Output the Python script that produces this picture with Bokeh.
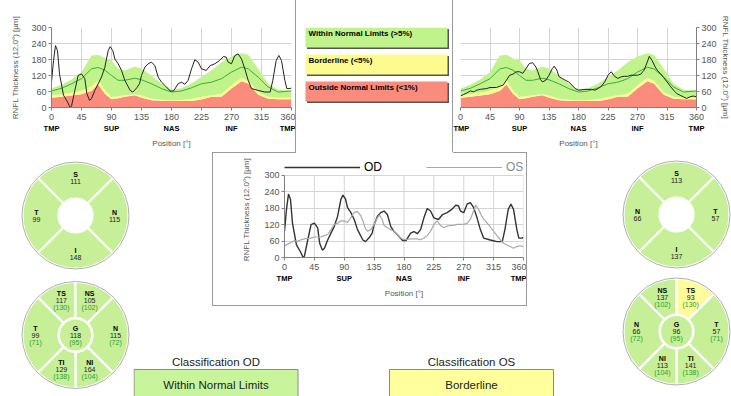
import math
from bokeh.plotting import figure
from bokeh.layouts import row, column
from bokeh.models import (Range1d, LinearAxis, FixedTicker, Grid, Legend, LegendItem,
                          Spacer, Div)
from bokeh.core.properties import value
from bokeh.embed import file_html
from bokeh.resources import INLINE

FONT = "Liberation Sans"

# ---------------- data ----------------
DEG_TICKS = [0, 45, 90, 135, 180, 225, 270, 315, 360]
THK_TICKS = [0, 60, 120, 180, 240, 300]
REGION_TICKS = [0, 90, 180, 270, 360]
REGION_LABELS = ["TMP", "SUP", "NAS", "INF", "TMP"]

NORM_DEG = [0, 15, 30, 45, 60, 70, 80, 90, 100, 110, 125, 135, 150, 165, 180, 195,
            210, 225, 240, 255, 270, 285, 295, 310, 325, 340, 360]
NORM_P1 = [37, 40, 45, 50, 62, 86, 52, 31, 35, 40, 46, 37, 27, 25, 24, 24,
           24, 30, 40, 40, 71, 98, 90, 48, 33, 31, 31]
NORM_P5 = [46, 50, 55, 64, 80, 102, 66, 40, 42, 46, 50, 46, 33, 29, 27, 28,
           32, 40, 46, 52, 83, 112, 100, 58, 40, 37, 37]
NORM_P95 = [71, 85, 105, 133, 195, 198, 185, 176, 145, 139, 154, 145, 120, 90, 67, 72,
            90, 114, 139, 170, 191, 203, 198, 145, 89, 67, 64]
NORM_MEAN = [62, 72, 89, 108, 145, 150, 140, 120, 102, 102, 110, 104, 89, 71, 58, 62,
             74, 89, 95, 108, 133, 151, 145, 114, 77, 58, 62]

OD_DEG = [0, 3, 6, 9, 12, 18, 24, 28, 30, 35, 40, 45, 50, 53, 57, 60, 65, 70, 75, 80,
          85, 88, 92, 95, 100, 105, 110, 118, 122, 128, 132, 135, 140, 145, 150, 155,
          160, 165, 170, 178, 183, 190, 195, 200, 205, 210, 215, 220, 225, 232, 238,
          245, 252, 258, 262, 265, 270, 275, 280, 285, 290, 295, 300, 310, 320, 328,
          332, 337, 341, 345, 350, 353, 358, 360]
OD_RNFL = [95, 176, 232, 213, 126, 46, 21, 0, 5, 64, 120, 126, 108, 52, 27, 33, 64, 89,
           114, 151, 213, 228, 213, 182, 164, 139, 102, 64, 58, 74, 89, 120, 151, 164,
           170, 157, 114, 95, 83, 62, 62, 89, 95, 87, 102, 145, 179, 170, 145, 139, 157,
           164, 176, 191, 189, 170, 164, 195, 201, 182, 145, 102, 71, 64, 58, 58, 102,
           176, 195, 176, 102, 71, 71, 74]

OS_DEG = [0, 5, 10, 15, 20, 25, 30, 40, 45, 55, 60, 65, 70, 75, 80, 85, 90, 95, 100, 105,
          110, 115, 118, 122, 125, 130, 135, 140, 143, 147, 150, 155, 160, 165, 170, 175,
          180, 190, 200, 205, 210, 215, 220, 225, 230, 235, 240, 245, 250, 255, 260, 270,
          275, 280, 285, 288, 292, 297, 300, 305, 310, 315, 320, 325, 330, 335, 340, 345,
          350, 355, 360]
OS_RNFL = [43, 49, 55, 62, 59, 65, 68, 71, 75, 75, 80, 84, 102, 121, 125, 134, 134, 128,
           146, 165, 168, 152, 134, 105, 96, 102, 121, 146, 155, 140, 117, 109, 102, 96,
           84, 71, 65, 68, 68, 65, 71, 80, 96, 121, 134, 117, 109, 115, 117, 117, 121,
           121, 125, 140, 171, 192, 177, 152, 140, 127, 112, 96, 80, 65, 52, 46, 40, 34,
           40, 43, 40]

LEGEND_LABELS = ["Within Normal Limits (>5%)", "Borderline (<5%)", "Outside Normal Limits (<1%)"]

OD_QUAD_LABELS = ["S", "T", "I", "N"]
OD_QUAD_VALUES = [111, 99, 148, 115]
OS_QUAD_LABELS = ["S", "N", "I", "T"]
OS_QUAD_VALUES = [113, 66, 137, 57]

OD_SECT_LABELS = ["TS", "NS", "N", "NI", "TI", "T", "G"]
OD_SECT_VALUES = [117, 105, 115, 164, 129, 99, 118]
OD_SECT_NORMS = [130, 102, 72, 104, 138, 71, 95]
OD_SECT_CLASS = ["WNL", "WNL", "WNL", "WNL", "WNL", "WNL", "WNL"]

OS_SECT_LABELS = ["NS", "TS", "T", "TI", "NI", "N", "G"]
OS_SECT_VALUES = [137, 93, 57, 141, 113, 66, 96]
OS_SECT_NORMS = [102, 130, 71, 138, 104, 72, 95]
OS_SECT_CLASS = ["WNL", "BL", "WNL", "WNL", "WNL", "WNL", "WNL"]

CLASS_TITLES = ["Classification OD", "Classification OS"]
CLASS_RESULTS = ["Within Normal Limits", "Borderline"]
CLASS_CODES = ["WNL", "BL"]

# ---------------- style ----------------
RED = "#fa8c7d"
YELLOW = "#fdfb8e"
GREEN = "#c0f38c"
MEAN_GREEN = "#3aab3a"
SECT_FILL = {"WNL": "#c6ef98", "BL": "#fdfb9a", "ONL": "#fa8c7d"}
BOX_FILL = {"WNL": "#c8f59c", "BL": "#ffff9c"}
GRID = "#d4d4d4"
AXIS = "#808080"
TXT = "#555555"
FRAME = "#9a9a9a"


def base_fig(**kw):
    p = figure(output_backend="svg", toolbar_location=None, title=None,
               x_axis_location=None, y_axis_location=None, **kw)
    p.grid.visible = False
    p.outline_line_color = None
    p.background_fill_color = "white"
    p.border_fill_color = "white"
    return p


def pixel_fig(w, h):
    return base_fig(frame_width=w, frame_height=h, x_range=Range1d(0, w),
                    y_range=Range1d(0, h), min_border=0)


def style_axis(ax):
    ax.major_label_text_font = FONT
    ax.major_label_text_font_size = "9px"
    ax.major_label_text_color = TXT
    ax.axis_label_text_font = FONT
    ax.axis_label_text_font_size = "8px"
    ax.axis_label_text_color = TXT
    ax.axis_label_text_font_style = "normal"
    ax.axis_line_color = AXIS
    ax.major_tick_line_color = AXIS
    ax.minor_tick_line_color = None
    ax.major_tick_in = 0
    ax.major_tick_out = 3


def tsnit(fw, fh, bl, br, bt, bb, yside, ylabel_standoff, ymax=300):
    p = base_fig(frame_width=fw, frame_height=fh,
                 x_range=Range1d(0, 360), y_range=Range1d(0, ymax),
                 min_border_left=bl, min_border_right=br,
                 min_border_top=bt, min_border_bottom=bb)
    if ymax == 300:
        p.add_layout(Grid(dimension=0, ticker=FixedTicker(ticks=DEG_TICKS),
                          grid_line_color=GRID))
    else:
        p.segment(x0=DEG_TICKS, y0=[0] * len(DEG_TICKS), x1=DEG_TICKS,
                  y1=[THK_TICKS[-1]] * len(DEG_TICKS), line_color=GRID, line_width=1,
                  level="underlay")
    p.add_layout(Grid(dimension=1, ticker=FixedTicker(ticks=THK_TICKS),
                      grid_line_color=GRID))
    xa = LinearAxis(ticker=FixedTicker(ticks=DEG_TICKS))
    style_axis(xa)
    xa.major_label_standoff = 3
    p.add_layout(xa, "below")
    xb = LinearAxis(ticker=FixedTicker(ticks=REGION_TICKS),
                    major_label_overrides=dict(zip(REGION_TICKS, REGION_LABELS)),
                    axis_label="Position [°]")
    style_axis(xb)
    xb.axis_line_color = None
    xb.major_tick_line_color = None
    xb.major_tick_out = 0
    xb.major_label_standoff = 1
    xb.major_label_text_color = "black"
    xb.major_label_text_font_style = "bold"
    xb.major_label_text_font_size = "7.5px"
    xb.axis_label_standoff = 3
    p.add_layout(xb, "below")
    ya = LinearAxis(ticker=FixedTicker(ticks=THK_TICKS), bounds=(0, THK_TICKS[-1]),
                    axis_label="RNFL Thickness (12.0°) [µm]")
    style_axis(ya)
    ya.major_label_standoff = 2
    ya.axis_label_standoff = ylabel_standoff
    p.add_layout(ya, yside)
    return p


def add_bands(p, deg, rnfl):
    p.varea(x=NORM_DEG, y1=0, y2=NORM_P1, fill_color=RED)
    p.varea(x=NORM_DEG, y1=NORM_P1, y2=NORM_P5, fill_color=YELLOW)
    p.varea(x=NORM_DEG, y1=NORM_P5, y2=NORM_P95, fill_color=GREEN)
    p.line(NORM_DEG, NORM_MEAN, line_color=MEAN_GREEN, line_width=1)
    p.line(deg, rnfl, line_color="#222222", line_width=1)


def gray_bar(w, h):
    return Div(text="", width=w, height=h, margin=0,
               styles={"background-color": FRAME, "padding": "0", "overflow": "hidden"})


# ---------------- top row (height 152) ----------------
TH = 152
FT, FB = 27, 107   # frame top / bottom (px from the top of the row)
figL = tsnit(240, FB - FT, 51, 4, FT, TH - FB, "left", 8)          # 295 x 152
add_bands(figL, OD_DEG, OD_RNFL)

figR = tsnit(236, FB - FT, 7, 35, FT, TH - FB, "right", 1)         # 278 x 152
add_bands(figR, OS_DEG, OS_RNFL)

# legend panel: same top/bottom borders as its neighbours, y measured from the top
LW = 156
figLeg = base_fig(frame_width=LW, frame_height=FB - FT, x_range=Range1d(0, LW),
                  y_range=Range1d(FB, FT), min_border_left=0, min_border_right=0,
                  min_border_top=FT, min_border_bottom=TH - FB)
leg_fill = [GREEN, YELLOW, RED]
leg_top = [27, 54, 81]
figLeg.quad(left=[10.5] * 3, right=[152.5] * 3, top=[t + 1.5 for t in leg_top],
            bottom=[t + 21.5 for t in leg_top], fill_color="#555555", line_color=None)
figLeg.quad(left=[9] * 3, right=[151] * 3, top=leg_top, bottom=[t + 20 for t in leg_top],
            fill_color=leg_fill, line_color=None)
figLeg.text(x=[12] * 3, y=[t + 6 for t in leg_top], text=LEGEND_LABELS,
            text_font=value(FONT), text_font_style="bold", text_font_size="8px",
            text_color="black", text_baseline="middle", text_align="left")
legend_panel = row(gray_bar(1, TH), figLeg, gray_bar(1, TH))

# ---------------- centre chart ----------------
CW, CH = 313, 152
figC = tsnit(239, 96, 71, 3, 8, 48, "left", 10, ymax=351)   # 313 x 152
od_r = figC.line(OD_DEG, OD_RNFL, line_color="#333333", line_width=1.4)
os_r = figC.line(OS_DEG, OS_RNFL, line_color="#a8a8a8", line_width=1.2)
for item, col, x in ((LegendItem(label="OD", renderers=[od_r]), "black", 0),
                     (LegendItem(label="OS", renderers=[os_r]), "#8a8a8a", 142)):
    lg = Legend(items=[item], location=(x, 83), orientation="horizontal",
                glyph_width=76, glyph_height=12, label_height=12, label_standoff=4,
                padding=0, margin=0, spacing=0, border_line_color=None,
                background_fill_alpha=0, label_text_font=FONT,
                label_text_font_size="12px", label_text_color=col)
    figC.add_layout(lg, "center")

frame_box = column(
    row(gray_bar(84, 1), Spacer(width=157, height=1), gray_bar(74, 1)),
    row(gray_bar(1, CH), figC, gray_bar(1, CH)),
    gray_bar(CW + 2, 1),
)

# ---------------- sector circles ----------------
ANG_OD6 = {"TS": (90, 135), "NS": (45, 90), "N": (-45, 45), "NI": (270, 315),
           "TI": (225, 270), "T": (135, 225)}
ANG_OS6 = {"NS": (90, 135), "TS": (45, 90), "T": (-45, 45), "TI": (270, 315),
           "NI": (225, 270), "N": (135, 225)}
ANG_OD4 = {"S": (45, 135), "T": (135, 225), "I": (225, 315), "N": (-45, 45)}
ANG_OS4 = {"S": (45, 135), "N": (135, 225), "I": (225, 315), "T": (-45, 45)}
R_OUT, R_IN, R_G = 53, 17, 15.5


def quad_circle(p, cx, cy, labels, values, angles):
    st = [math.radians(angles[l][0]) for l in labels]
    en = [math.radians(angles[l][1]) for l in labels]
    p.annular_wedge(x=cx, y=cy, inner_radius=R_IN, outer_radius=R_OUT, start_angle=st,
                    end_angle=en, fill_color=SECT_FILL["WNL"], line_color="white",
                    line_width=2.2)
    p.circle(x=[cx], y=[cy], radius=R_OUT + 0.5, fill_color=None, line_color="#9a9a9a",
             line_width=0.8)
    tx, ty = [], []
    for l in labels:
        a = math.radians(sum(angles[l]) / 2)
        r = 39 if l in ("T", "N") else 38
        tx.append(cx + r * math.cos(a))
        ty.append(cy + r * math.sin(a))
    p.text(x=tx, y=[y + 3.5 for y in ty], text=labels, text_font=value(FONT),
           text_font_style="bold", text_font_size="7px", text_align="center",
           text_baseline="middle", text_color="black")
    p.text(x=tx, y=[y - 3.5 for y in ty], text=[str(v) for v in values],
           text_font=value(FONT), text_font_size="7px", text_align="center",
           text_baseline="middle", text_color="#222222")


def sect_circle(p, cx, cy, labels, values, norms, classes, angles):
    ring = [l for l in labels if l != "G"]
    st = [math.radians(angles[l][0]) for l in ring]
    en = [math.radians(angles[l][1]) for l in ring]
    fills = [SECT_FILL[c] for l, c in zip(labels, classes) if l != "G"]
    p.annular_wedge(x=cx, y=cy, inner_radius=R_IN, outer_radius=R_OUT, start_angle=st,
                    end_angle=en, fill_color=fills, line_color="white", line_width=2.2)
    g_fill = [SECT_FILL[c] for l, c in zip(labels, classes) if l == "G"][0]
    p.circle(x=[cx], y=[cy], radius=R_G, fill_color=g_fill, line_color=None)
    p.circle(x=[cx], y=[cy], radius=R_OUT + 0.5, fill_color=None, line_color="#9a9a9a",
             line_width=0.8)
    tx, ty = [], []
    for l in labels:
        if l == "G":
            tx.append(cx)
            ty.append(cy)
            continue
        a = math.radians(sum(angles[l]) / 2)
        r = 40 if l in ("T", "N") else 37
        tx.append(cx + r * math.cos(a))
        ty.append(cy + r * math.sin(a))
    p.text(x=tx, y=[y + 7 for y in ty], text=labels, text_font=value(FONT),
           text_font_style="bold", text_font_size="7px", text_align="center",
           text_baseline="middle", text_color="black")
    p.text(x=tx, y=ty, text=[str(v) for v in values], text_font=value(FONT),
           text_font_size="7px", text_align="center", text_baseline="middle",
           text_color="#222222")
    p.text(x=tx, y=[y - 7 for y in ty], text=["(%d)" % n for n in norms],
           text_font=value(FONT), text_font_size="7px", text_align="center",
           text_baseline="middle", text_color="#2e9e2e")


BH = 396 - TH  # 244
figCircL = pixel_fig(133, BH)
quad_circle(figCircL, 75, BH - 63, OD_QUAD_LABELS, OD_QUAD_VALUES, ANG_OD4)
sect_circle(figCircL, 75, BH - 182.5, OD_SECT_LABELS, OD_SECT_VALUES, OD_SECT_NORMS,
            OD_SECT_CLASS, ANG_OD6)

figCircR = pixel_fig(111, BH)
quad_circle(figCircR, 56, BH - 62, OS_QUAD_LABELS, OS_QUAD_VALUES, ANG_OS4)
sect_circle(figCircR, 56, BH - 179, OS_SECT_LABELS, OS_SECT_VALUES, OS_SECT_NORMS,
            OS_SECT_CLASS, ANG_OS6)

# ---------------- classification ----------------
MW = 731 - 133 - 111  # 487
KH = BH - (CH + 2)     # 90
figCls = pixel_fig(MW, KH)
box_left = [0.5, 256]
box_w = 164
figCls.quad(left=box_left, right=[b + box_w for b in box_left], top=[KH - 63] * 2,
            bottom=[-10] * 2, fill_color=[BOX_FILL[c] for c in CLASS_CODES],
            line_color="#8a8a8a", line_width=1)
figCls.text(x=[b + box_w / 2 for b in box_left], y=[KH - 55] * 2, text=CLASS_TITLES,
            text_font=value(FONT), text_font_size="11.5px", text_align="center",
            text_baseline="middle", text_color="#222222")
figCls.text(x=[b + box_w / 2 for b in box_left], y=[KH - 78] * 2, text=CLASS_RESULTS,
            text_font=value(FONT), text_font_size="11.5px", text_align="center",
            text_baseline="middle", text_color="#222222")

# ---------------- layout ----------------
mid = column(row(Spacer(width=79, height=CH + 2), frame_box,
                 Spacer(width=MW - 79 - CW - 2, height=CH + 2)), figCls)
layout = column(row(figL, legend_panel, figR), row(figCircL, mid, figCircR))

open("out.html", "w").write(file_html(layout, INLINE))
